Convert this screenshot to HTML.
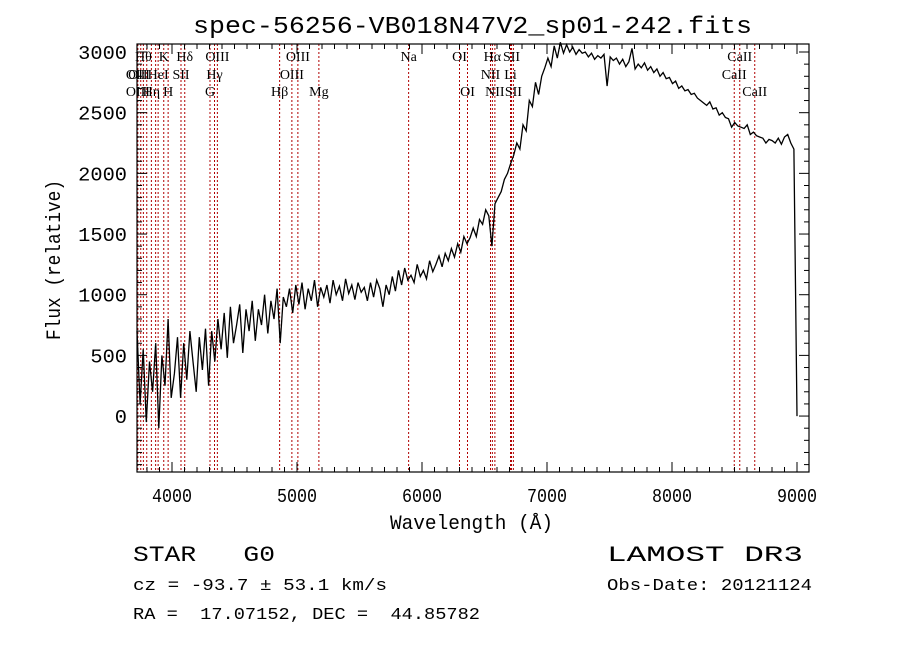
<!DOCTYPE html>
<html><head><meta charset="utf-8">
<style>
body{margin:0;background:#fff;}
svg{display:block;font-family:"Liberation Mono","DejaVu Sans Mono",monospace;}
text{white-space:pre;}
.lab{font-family:"Liberation Serif",serif;font-size:14px;}
</style></head>
<body>
<svg id="chart" width="900" height="649" viewBox="0 0 900 649" xml:space="preserve">
<rect width="900" height="649" fill="#fff"/>
<text x="193" y="33" font-size="24" textLength="559" lengthAdjust="spacingAndGlyphs">spec-56256-VB018N47V2_sp01-242.fits</text>
<g id="lines"></g>
<g id="labels"></g>
<path id="spec" fill="none" stroke="#000" stroke-width="1.3"/>
<rect x="137" y="44" width="672" height="428" fill="none" stroke="#000" stroke-width="1.2"/>
<g id="axes"></g>
<text x="390" y="529" font-size="20" textLength="163" lengthAdjust="spacingAndGlyphs">Wavelength (Å)</text>
<text transform="translate(60,340) rotate(-90)" font-size="20" textLength="160" lengthAdjust="spacingAndGlyphs">Flux (relative)</text>
<text x="133" y="561" font-size="22" textLength="142" lengthAdjust="spacingAndGlyphs">STAR   G0</text>
<text x="607" y="561" font-size="22" textLength="196" lengthAdjust="spacingAndGlyphs">LAMOST DR3</text>
<text x="133" y="590" font-size="17" textLength="254" lengthAdjust="spacingAndGlyphs">cz = -93.7 ± 53.1 km/s</text>
<text x="607" y="590" font-size="17" textLength="205" lengthAdjust="spacingAndGlyphs">Obs-Date: 20121124</text>
<text x="133" y="619" font-size="17" textLength="347" lengthAdjust="spacingAndGlyphs">RA =  17.07152, DEC =  44.85782</text>
</svg>
<script>
const waveStart = 3720, waveEnd = 9000;
const flux = [700,100,550,-50,450,200,600,-100,500,250,800,150,
350,650,150,600,300,700,450,200,650,380,720,250,
700,450,800,550,850,480,900,600,750,920,520,880,
700,950,620,880,750,1000,680,950,800,1050,600,980,
900,1050,850,1080,920,1100,880,1050,950,1120,900,1060,
980,1080,930,1120,1000,1070,950,1130,1010,1080,960,1100,
1020,1060,950,1100,980,1120,1050,900,1080,1000,1150,1030,
1200,1080,1220,1120,1160,1100,1250,1150,1200,1130,1280,1190,
1250,1320,1230,1340,1280,1380,1310,1420,1350,1480,1420,1470,
1550,1480,1620,1580,1700,1650,1400,1750,1800,1850,1950,2000,
2080,2150,2250,2200,2400,2350,2600,2550,2750,2650,2800,2870,
2950,2880,3050,2950,3080,2990,3060,3000,3040,2980,3020,2990,
3000,2960,2990,2940,2970,2950,2980,2720,2960,2930,2950,2900,
2940,2880,2920,3030,2860,2900,2870,2910,2850,2880,2830,2860,
2800,2830,2780,2790,2740,2760,2700,2720,2680,2690,2650,2660,
2620,2600,2580,2560,2590,2530,2540,2480,2500,2460,2450,2380,
2420,2390,2380,2370,2400,2320,2340,2310,2300,2290,2250,2280,
2270,2250,2290,2240,2300,2320,2250,2200,0];
const lineWaves = [3727,3750,3771,3798,3835,3869,3889,3934,3969,4072,4102,4304,4340,4363,4861,4959,5007,5175,5893,6300,6364,6548,6563,6583,6708,6716,6731,8498,8542,8662];
const labelText = ["OII","Hθ","K","Hδ","OIII","OIII","OIII","OIII","HeI","SII","Hγ","OIII","Hη","H","G","Hβ","Mg","Na","OI","OI","Hα","SII","NII","Li","NII","SII","CaII","CaII","CaII"];
const labelWave = [3727,3771,3934,4102,4363,5007,3727,4959,3889,4072,4340,3727,3835,3969,4304,4861,5175,5893,6300,6364,6563,6716,6548,6708,6583,6731,8542,8498,8662];
const labelRow = [1,0,0,0,0,0,1,1,1,1,1,2,2,2,2,2,2,0,0,2,0,0,1,1,2,2,0,1,2];
const xTicks = [4000,5000,6000,7000,8000,9000];
const yTicks = [0,500,1000,1500,2000,2500,3000];

const L=137,R=809,T=44,B=472,xMin=3720,xMax=9096,yMin=-461,yMax=3066;
const X=w=>L+(w-xMin)/(xMax-xMin)*(R-L);
const Y=f=>B-(f-yMin)/(yMax-yMin)*(B-T);
const NS="http://www.w3.org/2000/svg";
function mk(tag,at,parent){const e=document.createElementNS(NS,tag);for(const k in at)e.setAttribute(k,at[k]);parent.appendChild(e);return e;}

const gl=document.getElementById('lines');
lineWaves.forEach(w=>{const e=mk('line',{x1:X(w),x2:X(w),y1:T,y2:B,stroke:'#b00000','stroke-width':1,'stroke-dasharray':'2,2'},gl);

});

const glab=document.getElementById('labels');
const rowY=[61,79,96];
labelText.forEach((t,i)=>{const e=mk('text',{x:X(labelWave[i]),y:rowY[labelRow[i]],'text-anchor':'middle','class':'lab'},glab);e.textContent=t;

});

const step=(waveEnd-waveStart)/(flux.length-1);
let d='';flux.forEach((f,i)=>{d+=(i?'L':'M')+X(waveStart+i*step).toFixed(1)+','+Y(f).toFixed(1);});
document.getElementById('spec').setAttribute('d',d);

const ga=document.getElementById('axes');
for(let w=3800;w<=9000;w+=100){const maj=w%1000===0;
mk('line',{x1:X(w),x2:X(w),y1:B,y2:B-(maj?10:5),stroke:'#000'},ga);
mk('line',{x1:X(w),x2:X(w),y1:T,y2:T+(maj?10:5),stroke:'#000'},ga);}
xTicks.forEach(w=>{const e=mk('text',{x:X(w)-20,y:B+30,'font-size':19,textLength:40,lengthAdjust:'spacingAndGlyphs'},ga);e.textContent=w;

});
for(let f=-400;f<=3000;f+=100){const maj=f%500===0;
mk('line',{x1:L,x2:L+(maj?10:5),y1:Y(f),y2:Y(f),stroke:'#000'},ga);
mk('line',{x1:R,x2:R-(maj?10:5),y1:Y(f),y2:Y(f),stroke:'#000'},ga);}
yTicks.forEach(f=>{const s=String(f);const w=s.length*12.2;const e=mk('text',{x:127-w,y:Y(f)+7,'font-size':19,textLength:w,lengthAdjust:'spacingAndGlyphs'},ga);e.textContent=s;

});
</script>
</body></html>
